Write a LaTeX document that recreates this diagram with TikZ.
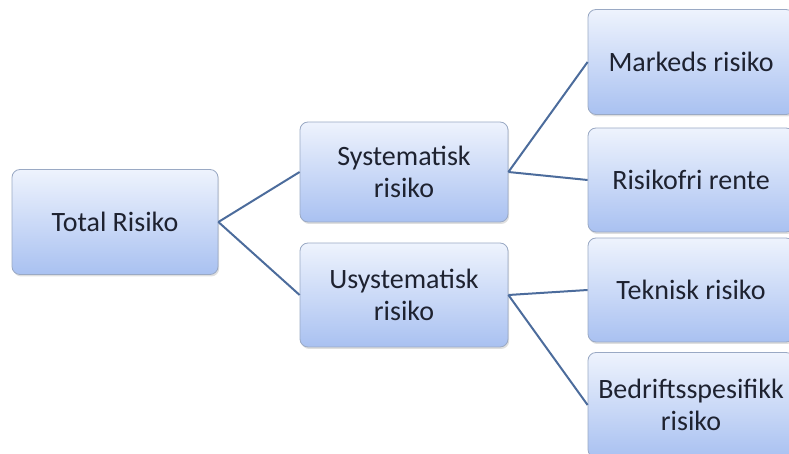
\documentclass[tikz,border=0pt]{standalone}
\usepackage{fontspec}
\setmainfont{Carlito}
\usetikzlibrary{positioning, shadows}
\usepackage{xcolor}
\definecolor{BoxTop}{HTML}{EEF3FD}
\definecolor{BoxBottom}{HTML}{A9C1F1}
\definecolor{BoxEdge}{HTML}{9AA9C4}
\definecolor{LinkBlue}{HTML}{4C6C9C}
\definecolor{InkDark}{HTML}{1E2230}

\begin{document}
\begin{tikzpicture}[x=0.5pt, y=-0.5pt]
    \tikzstyle{riskbox} = [rectangle, draw=BoxEdge, top color=BoxTop, bottom color=BoxBottom, text=InkDark, align=center, rounded corners=4pt, inner sep=0pt, font=\fontsize{14}{16}\selectfont, drop shadow={opacity=0.25, shadow xshift=0.6pt, shadow yshift=-1pt}]
    \tikzstyle{link} = [draw=LinkBlue, line width=1pt]

    \useasboundingbox (0,0) rectangle (789,454);
    \clip (0,0) rectangle (789,454);

    \node [riskbox, minimum width=103pt, minimum height=52.5pt] (total) at (115,222) {Total Risiko};
    \node [riskbox, minimum width=104pt, minimum height=50pt] (sys) at (404,172) {Systematisk\\risiko};
    \node [riskbox, minimum width=104pt, minimum height=52pt] (usys) at (404,295) {Usystematisk\\risiko};

    \node [riskbox, minimum width=103pt, minimum height=52.5pt] (marked) at (691,62) {Markeds risiko};
    \node [riskbox, minimum width=103pt, minimum height=52pt] (rente) at (691,180) {Risikofri rente};
    \node [riskbox, minimum width=103pt, minimum height=52pt] (teknisk) at (691,290) {Teknisk risiko};
    \node [riskbox, minimum width=103pt, minimum height=52.5pt] (bedrift) at (691,405) {Bedriftsspesifikk\\risiko};

    \draw [link] (total.east) -- (sys.west);
    \draw [link] (total.east) -- (usys.west);
    \draw [link] (sys.east) -- (marked.west);
    \draw [link] (sys.east) -- (rente.west);
    \draw [link] (usys.east) -- (teknisk.west);
    \draw [link] (usys.east) -- (bedrift.west);
\end{tikzpicture}
\end{document}
